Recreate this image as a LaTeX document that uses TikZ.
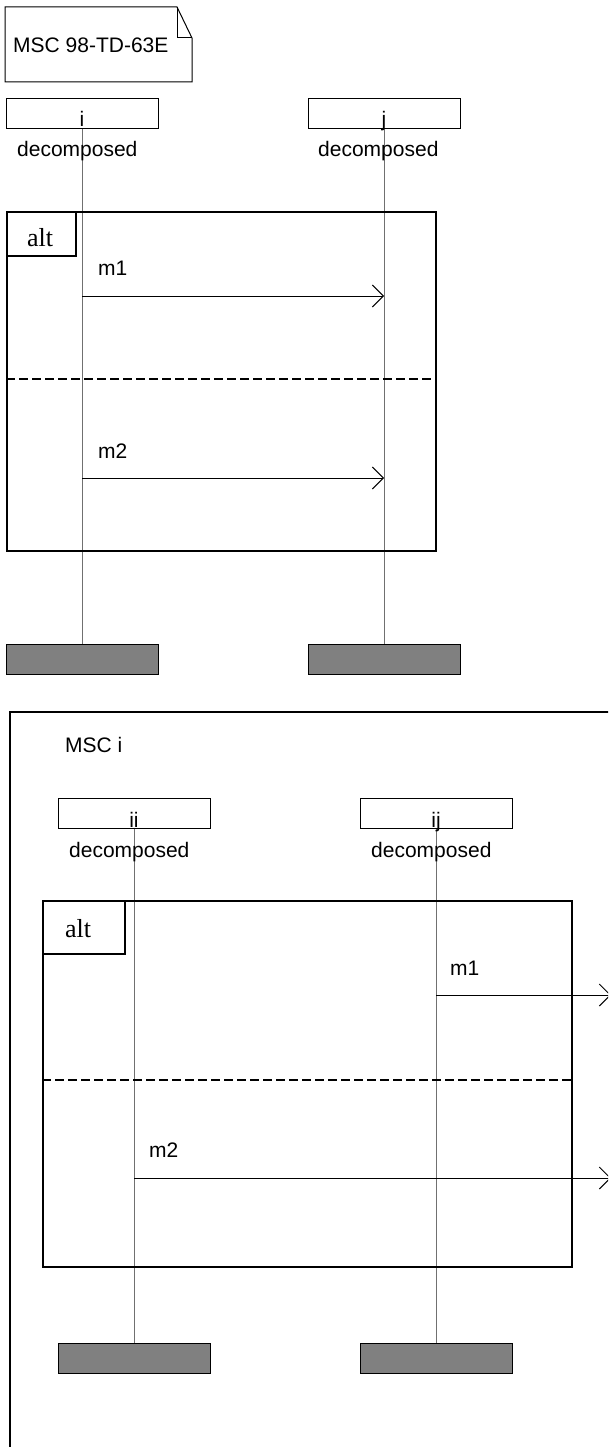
\documentclass[tikz,border=0pt]{standalone}
\usepackage{fontspec}
\setmainfont{Liberation Sans}
\newfontfamily\altfont{Liberation Serif}
\usetikzlibrary{arrows.meta}
\definecolor{endgray}{HTML}{808080}
\definecolor{lifegray}{HTML}{707070}
\newcommand{\lbsize}{\fontsize{21}{25}\selectfont}
\newcommand{\altsize}{\altfont\fontsize{26}{30}\selectfont}
\begin{document}
\begin{tikzpicture}[x=1pt,y=-1pt,
  headbox/.style={draw, line width=1pt, minimum width=152pt, minimum height=30pt, inner sep=0pt},
  endbox/.style={draw, line width=1pt, fill=endgray, minimum width=152pt, minimum height=30pt, inner sep=0pt},
  lifeline/.style={draw=lifegray, line width=1pt},
  framebox/.style={draw, line width=2pt, inner sep=0pt},
  altsep/.style={line width=2pt, dash pattern=on 9pt off 4pt},
  msg/.style={line width=1pt, -{Straight Barb[length=11pt,width=22pt]}},
  lbl/.style={inner sep=0pt, anchor=base west, font=\lbsize},
  hlbl/.style={inner sep=0pt, anchor=base, font=\lbsize},
  alttxt/.style={inner sep=0pt, anchor=base west, font=\altsize}]
\useasboundingbox (0,0) rectangle (608,1447);
\clip (0,0) rectangle (608,1447);
\fill[white] (0,0) rectangle (608,1447);

% ---------- top MSC ----------
\draw[line width=1pt] (5,7) -- (177,7) -- (192,38) -- (192,82) -- (5,82) -- cycle;
\draw[line width=1pt] (177,7) -- (177,38) -- (192,38);
\node[lbl] (title) at (13,53) {MSC 98-TD-63E};

\node[headbox] (hi) at (82,114) {};
\node[headbox] (hj) at (384,114) {};
\node[endbox] (ei) at (82,659) {};
\node[endbox] (ej) at (384,659) {};
\draw[lifeline] (hi) -- (ei);
\draw[lifeline] (hj) -- (ej);
\node[hlbl] (ti) at (82,127) {i};
\node[hlbl] (tj) at (384,127) {j};
\node[lbl] (di) at (17,157) {decomposed};
\node[lbl] (dj) at (318,157) {decomposed};

\node[framebox, minimum width=429pt, minimum height=339pt] (alt1) at (221.5,381.5) {};
\node[framebox, anchor=north west, minimum width=69pt, minimum height=44pt] (tab1) at (alt1.north west) {};
\node[alttxt] (alttext1) at (27,247) {alt};
\draw[altsep] (alt1.west |- 0,379) -- (alt1.east |- 0,379);

\node[lbl] (m1a) at (98,275) {m1};
\draw[msg] (hi |- 0,296) -- (hj |- 0,296);
\node[lbl] (m2a) at (98,458) {m2};
\draw[msg] (hi |- 0,478) -- (hj |- 0,478);

% ---------- bottom MSC i ----------
\coordinate (fbl) at (10,1470);
\coordinate (ftl) at (10,712);
\coordinate (ftr) at (630,712);
\draw[line width=2pt] (fbl) -- (ftl) -- (ftr);
\node[lbl] (msci) at (65,752) {MSC i};

\node[headbox] (hii) at (134,813) {};
\node[headbox] (hij) at (436,813) {};
\node[endbox] (eii) at (134,1358) {};
\node[endbox] (eij) at (436,1358) {};
\draw[lifeline] (hii) -- (eii);
\draw[lifeline] (hij) -- (eij);
\node[hlbl] (tii) at (134,827) {ii};
\node[hlbl] (tij) at (436,827) {ij};
\node[lbl] (dii) at (69,857) {decomposed};
\node[lbl] (dij) at (371,857) {decomposed};

\node[framebox, minimum width=529pt, minimum height=366pt] (alt2) at (307.5,1084) {};
\node[framebox, anchor=north west, minimum width=82pt, minimum height=53pt] (tab2) at (alt2.north west) {};
\node[alttxt] (alttext2) at (65,937) {alt};
\draw[altsep] (alt2.west |- 0,1080) -- (alt2.east |- 0,1080);

\coordinate (out1) at (611,995);
\coordinate (out2) at (611,1178);
\node[lbl] (m1b) at (450,975) {m1};
\draw[msg] (hij |- out1) -- (out1);
\node[lbl] (m2b) at (149,1157) {m2};
\draw[msg] (hii |- out2) -- (out2);
\end{tikzpicture}
\end{document}
